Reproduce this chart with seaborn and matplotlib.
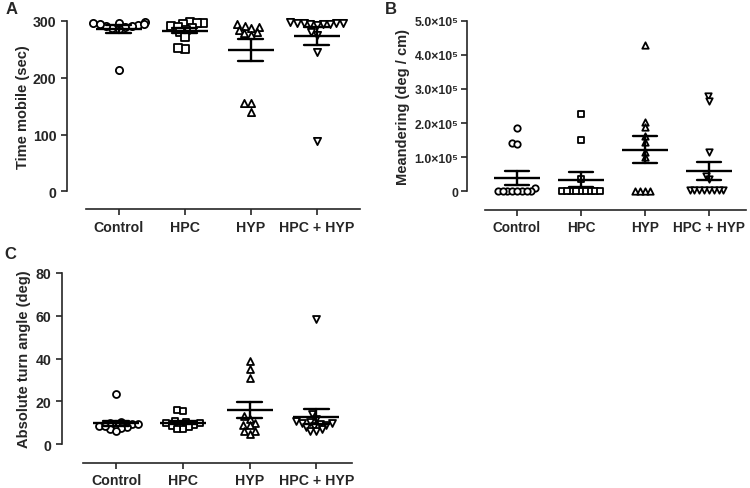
import numpy as np
import pandas as pd
import matplotlib
matplotlib.use('Agg')
import matplotlib.pyplot as plt
import seaborn as sns

groups = ['Control', 'HPC', 'HYP', 'HPC + HYP']
markers = ['o', 's', '^', 'v']

# A: time mobile (sec)
time_control = [298, 296, 293, 295, 290, 288, 292, 286, 294, 213, 297, 291]
time_hpc = [298, 297, 296, 295, 292, 290, 288, 285, 280, 272, 250, 252]
time_hyp = [295, 292, 290, 288, 285, 280, 278, 275, 155, 155, 140]
time_hpc_hyp = [298, 297, 297, 296, 296, 295, 295, 294, 293, 280, 275, 245, 88]

# B: meandering (deg / cm)
mea_control = [1.85e5, 1.42e5, 1.40e5, 0.1e5, 0, 0, 0, 0, 0, 0, 0, 0]
mea_hpc = [2.27e5, 1.50e5, 0.35e5, 0, 0, 0, 0, 0, 0, 0, 0, 0]
mea_hyp = [4.28e5, 2.02e5, 1.88e5, 1.62e5, 1.45e5, 1.15e5, 1.0e5, 0, 0, 0, 0]
mea_hpc_hyp = [2.78e5, 2.65e5, 1.15e5, 0.45e5, 0.35e5, 0.05e5, 0.05e5, 0.05e5,
               0.05e5, 0.05e5, 0.05e5, 0.05e5, 0.05e5]
mea_ticks = [0, 1e5, 2e5, 3e5, 4e5, 5e5]
mea_labels = ['0', '1.0×10⁵', '2.0×10⁵', '3.0×10⁵', '4.0×10⁵', '5.0×10⁵']

# C: absolute turn angle (deg)
turn_control = [23.5, 10.5, 10, 9.5, 9.5, 9, 8.5, 8, 7.5, 7, 6, 8.5]
turn_hpc = [16, 15.5, 11, 10.5, 10, 10, 9.5, 9, 8.5, 8, 7, 7]
turn_hyp = [39, 35, 31, 13, 12, 10, 9, 9, 6, 6, 5]
turn_hpc_hyp = [58.5, 14, 12, 11, 10.5, 10, 10, 9.5, 9, 8.5, 8, 7, 6, 6]

sns.set_style('ticks')
plt.rcParams['font.family'] = ['Liberation Sans', 'DejaVu Sans']
plt.rcParams['font.weight'] = 'bold'
plt.rcParams['axes.labelweight'] = 'bold'

fig = plt.figure(figsize=(7.5, 4.89), dpi=100)
swarms = []  # (collection, final marker size)


def px_axes(x0, x1, ytop, ybot):
    return fig.add_axes([x0 / 750, 1 - ybot / 489, (x1 - x0) / 750, (ybot - ytop) / 489])


def make_df(lists):
    rows = []
    for g, vals in zip(groups, lists):
        for v in vals:
            rows.append((g, v))
    return pd.DataFrame(rows, columns=['group', 'value'])


def panel(ax, lists, ylim, yticks, ylabel, xlim, left_out, bottom_out,
          msize, packing, fs, label_x, ylabels=None, yfs=None):
    df = make_df(lists)
    for g, m in zip(groups, markers):
        sub = df[df['group'] == g]
        n0 = len(ax.collections)
        # smaller size only for packing the swarm, so the markers overlap like in Prism
        sns.swarmplot(data=sub, x='group', y='value', order=groups, marker=m,
                      size=packing, color='white', edgecolor='black', linewidth=0.2,
                      ax=ax, clip_on=False, warn_thresh=1)
        for c in ax.collections[n0:]:
            swarms.append((c, msize))
    sns.pointplot(data=df, x='group', y='value', order=groups, estimator='mean',
                  errorbar='se', capsize=0.38, color='black', markers='_',
                  markersize=33, markeredgewidth=1.7, linestyle='none',
                  err_kws={'linewidth': 1.7}, ax=ax)
    for ln in ax.lines:
        ln.set_clip_on(False)
        ln.set_zorder(5)
    ax.set_ylim(*ylim)
    ax.set_xlim(*xlim)
    ax.set_yticks(yticks)
    if ylabels is not None:
        ax.set_yticklabels(ylabels)
    ax.set_xlabel('')
    ax.set_ylabel(ylabel, fontsize=10.5, fontweight='bold')
    ax.yaxis.set_label_coords(label_x, 0.5)
    sns.despine(ax=ax)
    ax.spines['left'].set_position(('outward', left_out * 0.72))
    ax.spines['bottom'].set_position(('outward', bottom_out * 0.72))
    for s in ['left', 'bottom']:
        ax.spines[s].set_linewidth(1.2)
    ax.tick_params(direction='out', length=4, width=1.2)
    ax.tick_params(axis='x', labelsize=fs)
    ax.tick_params(axis='y', labelsize=yfs if yfs else fs, pad=2 if yfs else 3.5)
    for t in ax.get_xticklabels() + ax.get_yticklabels():
        t.set_fontweight('bold')


axA = px_axes(86, 360, 22, 192.3)
panel(axA, [time_control, time_hpc, time_hyp, time_hpc_hyp], (0, 300),
      [0, 100, 200, 300], 'Time mobile (sec)', (-0.5, 3.66), 19.3, 18,
      msize=5.2, packing=4.3, fs=10.2, label_x=-0.204)

axB = px_axes(485, 746, 21.7, 192.3)
panel(axB, [mea_control, mea_hpc, mea_hyp, mea_hpc_hyp], (0, 5e5),
      mea_ticks, 'Meandering (deg / cm)', (-0.5, 3.58), 18.3, 18.7,
      msize=4.6, packing=3.1, fs=9.8, label_x=-0.287,
      ylabels=mea_labels, yfs=8.8)

axC = px_axes(82.7, 351.7, 274, 445.3)
panel(axC, [turn_control, turn_hpc, turn_hyp, turn_hpc_hyp], (0, 80),
      [0, 20, 40, 60, 80], 'Absolute turn angle (deg)', (-0.5, 3.53), 21, 18.7,
      msize=5.0, packing=4.0, fs=10.2, label_x=-0.192)

fig.text(6 / 750, 1 - 2 / 489, 'A', fontsize=12, fontweight='bold', va='top')
fig.text(385 / 750, 1 - 2 / 489, 'B', fontsize=12, fontweight='bold', va='top')
fig.text(4 / 750, 1 - 247 / 489, 'C', fontsize=12, fontweight='bold', va='top')

# run the swarm layout once, then freeze it and enlarge the markers
fig.canvas.draw()
for c, s in swarms:
    if 'draw' in c.__dict__:
        del c.draw
    c.set_sizes([s ** 2])
    c.set_linewidth(1.3)
    c.set_clip_on(False)

fig.savefig('out.png', dpi=100)
